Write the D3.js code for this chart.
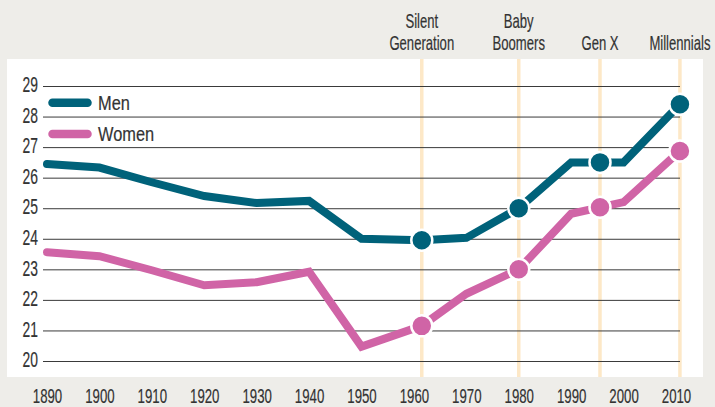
<!DOCTYPE html>
<html>
<head>
<meta charset="utf-8">
<script src="https://cdn.jsdelivr.net/npm/d3@7"></script>
<style>
    body { margin: 0; background: #eeede9; }
    text { font-family: "Liberation Sans", Arial, sans-serif; fill: #333;
           stroke: #333; stroke-width: 0.2px; }
</style>
</head>
<body>
<script>
// Median age at first marriage
var years = [1890, 1900, 1910, 1920, 1930, 1940, 1950, 1961.5, 1970, 1980,
             1990, 1995.5, 2000, 2010.75];
var men = [26.45, 26.33, 25.85, 25.4, 25.17, 25.24, 24.0, 23.95, 24.03, 25.0,
           26.5, 26.5, 26.5, 28.4];
var women = [23.56, 23.43, 22.97, 22.48, 22.58, 22.92, 20.47, 21.15, 22.2, 23.0,
             24.82, 25.03, 25.2, 26.87];

// generation markers (year where the dot sits) and their header labels
var genYears = [1961.5, 1980, 1995.5, 2010.75];
var genLabels = [["Silent", "Generation"], ["Baby", "Boomers"], ["Gen X"], ["Millennials"]];

var xTicks = [1890, 1900, 1910, 1920, 1930, 1940, 1950, 1960, 1970, 1980,
              1990, 2000, 2010];
var yTicks = [20, 21, 22, 23, 24, 25, 26, 27, 28, 29];

var seriesNames = ["Men", "Women"];
var colors = ["#00627a", "#d064a6"];

var width = 715, height = 407;
var panel = {left: 7, top: 59, right: 703, bottom: 377};
var gridLeft = 43, gridRight = 680;
// the source font is a condensed face, so squeeze a normal one
var squeeze = 0.63;

var svg = d3.select("body").append("svg")
    .attr("width", width)
    .attr("height", height);

// grey page and the white plot panel
svg.append("rect").attr("width", width).attr("height", height).attr("fill", "#eeede9");
svg.append("rect")
    .attr("x", panel.left).attr("y", panel.top)
    .attr("width", panel.right - panel.left)
    .attr("height", panel.bottom - panel.top)
    .attr("fill", "#fff");

var xScale = d3.scaleLinear().domain([1890, 2010]).range([47, 676]);
var yScale = d3.scaleLinear().domain([20, 29]).range([361, 86]);

// beige guide lines at each generation
svg.selectAll(".gen-line")
    .data(genYears)
    .enter()
    .append("line")
    .attr("class", "gen-line")
    .attr("x1", function(d) { return xScale(d); })
    .attr("x2", function(d) { return xScale(d); })
    .attr("y1", panel.top)
    .attr("y2", panel.bottom)
    .attr("stroke", "#fde8c7")
    .attr("stroke-width", 3.5);

// y axis doubles as the gridlines
var yAxis = d3.axisLeft(yScale)
    .tickValues(yTicks)
    .tickSize(-(gridRight - gridLeft))
    .tickPadding(5);

var yG = svg.append("g")
    .attr("transform", "translate(" + gridLeft + ",0)")
    .call(yAxis);
yG.select(".domain").remove();
yG.selectAll(".tick line").attr("stroke", "#3a3a3a").attr("stroke-width", 1);
yG.selectAll(".tick text")
    .attr("x", -5 / squeeze)
    .attr("dy", "0.26em")
    .attr("font-size", "22px")
    .attr("font-family", null)
    .attr("fill", null)
    .attr("transform", "scale(" + squeeze + ",1)");

// x axis labels, no tick marks
var xAxis = d3.axisBottom(xScale)
    .tickValues(xTicks)
    .tickFormat(d3.format("d"))
    .tickSize(0)
    .tickPadding(0);

var xG = svg.append("g")
    .attr("transform", "translate(0,402.5)")
    .call(xAxis);
xG.select(".domain").remove();
xG.selectAll(".tick text")
    .attr("y", 0)
    .attr("dy", 0)
    .attr("font-size", "21px")
    .attr("font-family", null)
    .attr("fill", null)
    .attr("transform", "scale(" + squeeze + ",1)");

// generation headers above the panel
var heads = svg.selectAll(".gen-head")
    .data(genYears)
    .enter()
    .append("text")
    .attr("class", "gen-head")
    .attr("text-anchor", "middle")
    .attr("font-size", "20px")
    .attr("transform", function(d) {
        return "translate(" + xScale(d) + ",50) scale(0.655,1)";
    });
heads.selectAll("tspan")
    .data(function(d, i) { return genLabels[i].slice().reverse(); })
    .enter()
    .append("tspan")
    .attr("x", 0)
    .attr("y", function(d, i) { return -i * 21.7; })
    .text(function(d) { return d; });

// the two lines
var line = d3.line()
    .x(function(d) { return xScale(d[0]); })
    .y(function(d) { return yScale(d[1]); });

[men, women].forEach(function(values, s) {
    var pts = years.map(function(yr, i) { return [yr, values[i]]; });
    svg.append("path")
        .datum(pts)
        .attr("d", line)
        .attr("fill", "none")
        .attr("stroke", colors[s])
        .attr("stroke-width", 8)
        .attr("stroke-linejoin", "miter")
        .attr("stroke-linecap", "round");

    // dots only at the generation years
    svg.selectAll(".dot-" + s)
        .data(pts.filter(function(d) { return genYears.indexOf(d[0]) >= 0; }))
        .enter()
        .append("circle")
        .attr("class", "dot-" + s)
        .attr("cx", function(d) { return xScale(d[0]); })
        .attr("cy", function(d) { return yScale(d[1]); })
        .attr("r", 10.5)
        .attr("fill", colors[s])
        .attr("stroke", "#fff")
        .attr("stroke-width", 2.5);
});

// legend
var legend = svg.selectAll(".legend")
    .data(seriesNames)
    .enter()
    .append("g")
    .attr("class", "legend")
    .attr("transform", function(d, i) { return "translate(0," + (102.7 + i * 31.3) + ")"; });
legend.append("line")
    .attr("x1", 52.5).attr("x2", 87.5)
    .attr("stroke", function(d, i) { return colors[i]; })
    .attr("stroke-width", 8.5)
    .attr("stroke-linecap", "round");
legend.append("text")
    .attr("transform", "translate(98,7) scale(0.78,1)")
    .attr("font-size", "21px")
    .text(function(d) { return d; });
</script>
</body>
</html>
